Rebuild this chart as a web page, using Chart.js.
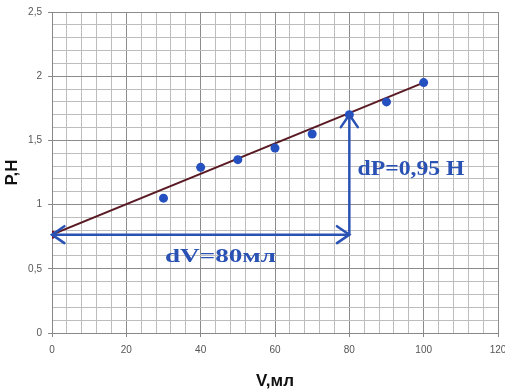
<!DOCTYPE html>
<html>
<head>
<meta charset="utf-8">
<script src="https://cdn.jsdelivr.net/npm/chart.js@4"></script>
<style>
  html, body { margin: 0; padding: 0; background: #fff; }
  #wrap { width: 505px; height: 392px; }
</style>
</head>
<body>
<div id="wrap"><canvas id="pvChart"></canvas></div>
<script>
// measured points
const volumes = [30, 40, 50, 60, 70, 80, 90, 100];
const forces = [1.05, 1.29, 1.35, 1.44, 1.55, 1.70, 1.80, 1.95];

// fitted line
const fitV = [0, 100];
const fitP = [0.766, 1.95];

// dV / dP construction
const dvV = [0, 80];
const dvP = [0.766, 0.766];
const dpV = [80, 80];
const dpP = [0.766, 1.70];
const dvText = 'dV=80мл';
const dpText = 'dP=0,95 Н';

const blue = '#2a52b4';

function toXY(xs, ys) {
  return xs.map((x, i) => ({ x: x, y: ys[i] }));
}

function arrowHead(ctx, x, y, angle) {
  const len = 15;
  const spread = 0.6;
  ctx.beginPath();
  ctx.moveTo(x - len * Math.cos(angle - spread), y - len * Math.sin(angle - spread));
  ctx.lineTo(x, y);
  ctx.lineTo(x - len * Math.cos(angle + spread), y - len * Math.sin(angle + spread));
  ctx.stroke();
}

// text squeezed/stretched to a given width, like the original picture
function fitText(ctx, text, x, y, size, width) {
  ctx.font = 'bold ' + size + 'px "Liberation Serif", "DejaVu Serif", serif';
  const w = ctx.measureText(text).width;
  ctx.save();
  ctx.translate(x, y);
  ctx.scale(width / w, 1);
  ctx.fillText(text, 0, 0);
  ctx.restore();
}

const extras = {
  id: 'extras',
  afterDatasetsDraw(chart) {
    const ctx = chart.ctx;
    const xs = chart.scales.x;
    const ys = chart.scales.y;
    ctx.save();
    ctx.strokeStyle = blue;
    ctx.lineWidth = 2.5;
    ctx.lineCap = 'round';
    // heads on the dV arrow (both ends)
    const x0 = xs.getPixelForValue(dvV[0]);
    const x1 = xs.getPixelForValue(dvV[1]);
    const yh = ys.getPixelForValue(dvP[0]);
    arrowHead(ctx, x0, yh, Math.PI);
    arrowHead(ctx, x1, yh, 0);
    // head on the dP arrow (top)
    const xv = xs.getPixelForValue(dpV[1]);
    const yt = ys.getPixelForValue(dpP[1]);
    arrowHead(ctx, xv, yt, -Math.PI / 2);

    ctx.fillStyle = blue;
    ctx.textBaseline = 'middle';
    ctx.textAlign = 'left';
    fitText(ctx, dpText, xs.getPixelForValue(82.2), ys.getPixelForValue(1.27), 21, 107);
    fitText(ctx, dvText, xs.getPixelForValue(30.4), ys.getPixelForValue(0.59), 19, 111);

    // x axis title
    ctx.fillStyle = '#111';
    ctx.font = 'bold 17px "Liberation Sans", Arial, sans-serif';
    ctx.textAlign = 'center';
    ctx.fillText('V,мл', (chart.chartArea.left + chart.chartArea.right) / 2, 381);
    ctx.restore();
  }
};

const isMajor = (v, step) => Math.abs(v / step - Math.round(v / step)) < 1e-6;

const ctx = document.getElementById('pvChart').getContext('2d');
new Chart(ctx, {
  type: 'scatter',
  data: {
    datasets: [
      {
        label: 'fit',
        type: 'line',
        data: toXY(fitV, fitP),
        borderColor: '#5a1a24',
        borderWidth: 2,
        pointRadius: [4, 0],
        pointBackgroundColor: '#7a1020',
        pointBorderWidth: 0,
        order: 3
      },
      {
        label: 'dV',
        type: 'line',
        data: toXY(dvV, dvP),
        borderColor: blue,
        borderWidth: 2.5,
        pointRadius: 0,
        order: 2
      },
      {
        label: 'dP',
        type: 'line',
        data: toXY(dpV, dpP),
        borderColor: blue,
        borderWidth: 2.5,
        pointRadius: 0,
        order: 2
      },
      {
        label: 'P',
        data: toXY(volumes, forces),
        backgroundColor: '#2550c0',
        borderWidth: 0,
        pointRadius: 4.5,
        order: 1
      }
    ]
  },
  options: {
    responsive: true,
    maintainAspectRatio: false,
    animation: false,
    layout: { padding: { top: 10, right: 0, left: 0, bottom: 0 } },
    plugins: {
      legend: { display: false },
      tooltip: { enabled: false }
    },
    scales: {
      x: {
        type: 'linear',
        min: 0,
        max: 120,
        afterFit: (s) => { s.height = 59; s.paddingRight = 7; s.paddingLeft = 0; },
        border: { color: '#888', width: 1 },
        grid: {
          color: (c) => isMajor(c.tick.value, 20) ? '#8c8c8c' : '#bdbdbd',
          tickColor: (c) => isMajor(c.tick.value, 20) ? '#888' : 'rgba(0,0,0,0)',
          tickLength: 4
        },
        ticks: {
          stepSize: 4,
          autoSkip: false,
          maxRotation: 0,
          padding: 7,
          color: '#555',
          font: { size: 10, family: '"Liberation Sans", Arial, sans-serif' },
          callback: (v) => isMajor(v, 20) ? String(v) : ''
        }
      },
      y: {
        type: 'linear',
        min: 0,
        max: 2.5,
        afterFit: (s) => { s.width = 52; },
        border: { color: '#888', width: 1 },
        grid: {
          color: (c) => isMajor(c.tick.value, 0.5) ? '#8c8c8c' : '#bdbdbd',
          tickColor: (c) => isMajor(c.tick.value, 0.5) ? '#888' : 'rgba(0,0,0,0)',
          tickLength: 4
        },
        ticks: {
          stepSize: 0.1,
          autoSkip: false,
          padding: 6,
          color: '#555',
          font: { size: 10, family: '"Liberation Sans", Arial, sans-serif' },
          callback: (v) => isMajor(v, 0.5) ? String(Math.round(v * 10) / 10).replace('.', ',') : ''
        },
        title: {
          display: true,
          text: 'P,H',
          color: '#111',
          font: { size: 17, weight: 'bold', family: '"Liberation Sans", Arial, sans-serif' },
          padding: { top: 2, bottom: 0 }
        }
      }
    }
  },
  plugins: [extras]
});
</script>
</body>
</html>
